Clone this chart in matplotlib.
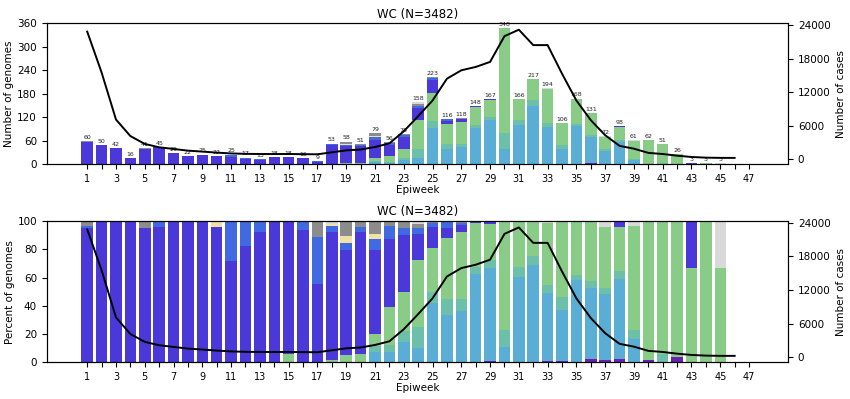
import numpy as np
import matplotlib
matplotlib.use("Agg")
import matplotlib.pyplot as plt

weeks = list(range(1, 46))
case_weeks = list(range(1, 47))

# lineage counts per epiweek (weeks 1..45), stacked bottom -> top
dark_purple = [0]*28 + [2, 0, 0, 0, 2, 1, 0, 3, 1, 2, 0, 1, 0, 1, 0, 0, 0]
steel_blue  = [0]*20 + [6, 4, 11, 16, 93, 39, 43, 93, 110, 38, 100, 150, 93, 38, 98, 66, 34, 56, 10, 0, 0, 0, 0, 0, 0]
teal        = [0]*20 + [3, 3, 6, 24, 18, 13, 10, 7, 9, 41, 12, 14, 11, 10, 6, 6, 3, 5, 4, 0, 3, 0, 0, 0, 0]
green       = [0]*14 + [1, 0, 0, 1, 3, 3, 7, 15, 22, 74, 70, 50, 56, 46, 43, 269, 54, 53, 85, 57, 64, 56, 31, 31, 45, 61, 48, 25, 2, 3, 2]
beta        = [57, 50, 42, 16, 39, 43, 29, 22, 25, 21, 18, 14, 12, 18, 17, 15, 5, 48, 43, 44,
               47, 27, 31, 30, 33, 8, 6, 2, 3, 0, 0, 0, 0, 0, 0, 0, 0, 3, 0, 0, 0, 0, 1, 0, 0]
royal       = [1, 0, 0, 0, 0, 2, 0, 0, 0, 0, 7, 3, 1, 0, 0, 1, 3, 2, 3, 2,
               6, 5, 4, 6, 6, 5, 1] + [0]*18
yellow      = [0]*9 + [1] + [0]*7 + [1, 3, 0, 3] + [0]*24
grey        = [2, 0, 0, 0, 2] + [0]*11 + [1, 0, 6, 2, 7, 2, 4, 5, 3, 0, 2] + [0]*18
light_grey  = [0]*17 + [1] + [0]*5 + [3, 0, 1] + [0]*6 + [3, 0, 0, 0, 3, 1, 2, 0, 0, 0, 0, 0, 1]

cases = [22800, 15500, 7100, 4150, 2750, 2150, 1850, 1550, 1380, 1200,
         1050, 980, 950, 950, 950, 920, 900, 1250, 1600, 1750,
         2200, 2850, 5000, 7700, 10500, 14400, 15900, 16500, 17400, 22000,
         23150, 20400, 20400, 15300, 10500, 7000, 4300, 2400, 1900, 1150,
         950, 650, 420, 300, 260, 255]

series = [dark_purple, steel_blue, teal, green, beta, royal, yellow, grey, light_grey]
colors = ['#6a1fb0', '#5aadd4', '#6cbfa9', '#88cc88', '#4a38d8', '#4169e1',
          '#f0e2a2', '#8c8c8c', '#d9d9d9']

data = np.array(series, dtype=float)
totals = data.sum(axis=0)
pct = data / totals * 100

fig = plt.figure(figsize=(8.5, 3.99), dpi=100)
ax1 = fig.add_axes([0.0549, 0.5882, 0.8722, 0.3534])
ax2 = fig.add_axes([0.0549, 0.0920, 0.8722, 0.3541])

x = np.array(weeks)
for ax, vals in [(ax1, data), (ax2, pct)]:
    bottom = np.zeros(len(weeks))
    for v, c in zip(vals, colors):
        ax.bar(x, v, bottom=bottom, color=c, width=0.8, linewidth=0)
        bottom += v
    ax.set_xlim(-1.82, 49.71)
    ax.set_xticks(range(1, 48))
    ax.set_xticklabels([str(w) if w % 2 == 1 else '' for w in range(1, 48)], fontsize=7)
    ax.tick_params(axis='y', labelsize=7.5)
    ax.set_xlabel('Epiweek', fontsize=7.5, labelpad=1)
    ax.set_title('WC (N=3482)', fontsize=8.5, pad=4)

for xi, t in zip(x, totals):
    ax1.text(xi, t + 3, str(int(t)), ha='center', va='bottom', fontsize=4.5, color='#222222')

ax1.set_ylim(0, 360)
ax1.set_yticks(range(0, 361, 60))
ax1.set_ylabel('Number of genomes', fontsize=7.5, labelpad=2)
ax2.set_ylim(0, 100)
ax2.set_yticks(range(0, 101, 20))
ax2.set_ylabel('Percent of genomes', fontsize=7.5, labelpad=2)

for ax in (ax1, ax2):
    tw = ax.twinx()
    tw.plot(case_weeks, cases, color='black', lw=1.4)
    tw.set_yticks([0, 6000, 12000, 18000, 24000])
    tw.tick_params(axis='y', labelsize=7.5)
    tw.set_ylabel('Number of cases', fontsize=7.5)

fig.savefig('out.png', dpi=100)
